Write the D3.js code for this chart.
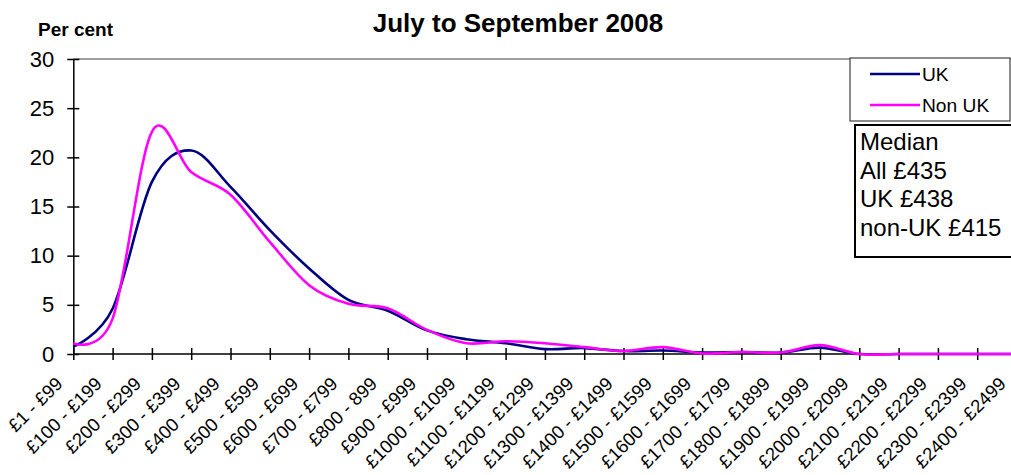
<!DOCTYPE html>
<html>
<head>
<meta charset="utf-8">
<script src="https://cdn.jsdelivr.net/npm/d3@7"></script>
<style>
  html, body { margin: 0; padding: 0; background: #fff; }
  svg { display: block; font-family: Arial, "Liberation Sans", sans-serif; }
</style>
</head>
<body>
<svg id="chart" width="1011" height="475"></svg>
<script>
// Weekly earnings bands
const categories = [
  "£1 - £99", "£100 - £199", "£200 - £299", "£300 - £399", "£400 - £499",
  "£500 - £599", "£600 - £699", "£700 - £799", "£800 - 899", "£900 - £999",
  "£1000 - £1099", "£1100 - £1199", "£1200 - £1299", "£1300 - £1399", "£1400 - £1499",
  "£1500 - £1599", "£1600 - £1699", "£1700 - £1799", "£1800 - £1899", "£1900 - £1999",
  "£2000 - £2099", "£2100 - £2199", "£2200 - £2299", "£2300 - £2399", "£2400 - £2499"
];

// Share of workers in each band (per cent)
const ukValues = [0.75, 4.6, 17.5, 20.7, 17.0, 12.6, 8.7, 5.5, 4.4, 2.4, 1.5, 1.1, 0.5,
  0.6, 0.3, 0.35, 0.15, 0.2, 0.15, 0.65, 0, 0, 0, 0, 0];
const nonUkValues = [1.1, 3.6, 22.6, 18.5, 16.2, 11.4, 7.0, 5.1, 4.65, 2.45, 1.1, 1.3, 1.1,
  0.7, 0.3, 0.7, 0.05, 0.2, 0.15, 0.9, 0, 0, 0, 0, 0];

const yTicks = [0, 5, 10, 15, 20, 25, 30];
const seriesNames = ["UK", "Non UK"];
const medianLines = ["Median", "All £435", "UK £438", "non-UK £415"];
const titleText = "July to September 2008";
const yAxisTitle = "Per cent";

const svg = d3.select("#chart");
const FONT = "Arial, 'Liberation Sans', sans-serif";

const plotLeft = 73.3, plotRight = 73.3 + 24 * 39.3, plotTop = 59, plotBottom = 354;

const x = d3.scalePoint().domain(categories).range([plotLeft, plotRight]);
const y = d3.scaleLinear().domain([0, 30]).range([plotBottom, plotTop]);

// Plot area top border
svg.append("line")
  .attr("x1", plotLeft).attr("x2", 1011)
  .attr("y1", plotTop).attr("y2", plotTop)
  .attr("stroke", "#808080").attr("stroke-width", 1.5);

// Y axis
const yAxis = svg.append("g")
  .attr("transform", `translate(${plotLeft},0)`)
  .call(d3.axisLeft(y).tickValues(yTicks).tickSize(0).tickPadding(19));
yAxis.select(".domain").attr("stroke", "#000").attr("stroke-width", 1.5);
yAxis.selectAll(".tick text")
  .attr("font-size", 22).attr("fill", "#000")
  .attr("font-family", FONT);
yAxis.selectAll(".tick").append("line")
  .attr("x1", -6).attr("x2", 6)
  .attr("stroke", "#000").attr("stroke-width", 1.5);

// X axis
const xAxis = svg.append("g")
  .attr("transform", `translate(0,${plotBottom})`)
  .call(d3.axisBottom(x).tickSize(0).tickFormat(""));
xAxis.select(".domain").remove();
xAxis.append("line")
  .attr("x1", plotLeft).attr("x2", 1011)
  .attr("stroke", "#000").attr("stroke-width", 1.5);
xAxis.selectAll(".tick").append("line")
  .attr("y1", -6).attr("y2", 6)
  .attr("stroke", "#000").attr("stroke-width", 1.5);
xAxis.selectAll(".tick").append("text")
  .attr("transform", "translate(-10,31) rotate(-45)")
  .attr("text-anchor", "end")
  .attr("font-size", 18.5)
  .attr("fill", "#000")
  .attr("font-family", FONT)
  .text(d => d);

// Series lines
const line = d3.line()
  .x((d, i) => x(categories[i]))
  .y(d => y(d))
  .curve(d3.curveCardinal.tension(0));

svg.append("path")
  .datum(ukValues)
  .attr("fill", "none")
  .attr("stroke", "#000080")
  .attr("stroke-width", 2.6)
  .attr("d", line);

svg.append("path")
  .datum(nonUkValues)
  .attr("fill", "none")
  .attr("stroke", "#FF00FF")
  .attr("stroke-width", 2.6)
  .attr("d", line);

// Titles
svg.append("text")
  .attr("x", 518).attr("y", 32)
  .attr("text-anchor", "middle")
  .attr("font-size", 26).attr("font-weight", "bold")
  .text(titleText);

svg.append("text")
  .attr("x", 38).attr("y", 36)
  .attr("font-size", 19).attr("font-weight", "bold")
  .text(yAxisTitle);

// Legend
const legend = svg.append("g");
legend.append("rect")
  .attr("x", 850).attr("y", 58).attr("width", 160).attr("height", 63)
  .attr("fill", "#fff").attr("stroke", "#404040").attr("stroke-width", 1.2);
const legendColors = ["#000080", "#FF00FF"];
seriesNames.forEach((name, i) => {
  const ly = 74 + i * 31;
  legend.append("line")
    .attr("x1", 870).attr("x2", 920).attr("y1", ly).attr("y2", ly)
    .attr("stroke", legendColors[i]).attr("stroke-width", 2.6);
  legend.append("text")
    .attr("x", 922).attr("y", ly).attr("dy", "0.35em")
    .attr("font-size", 19.2).text(name);
});

// Median box
const med = svg.append("g");
med.append("rect")
  .attr("x", 855).attr("y", 125).attr("width", 170).attr("height", 132)
  .attr("fill", "#fff").attr("stroke", "#000").attr("stroke-width", 2);
medianLines.forEach((t, i) => {
  med.append("text")
    .attr("x", 860).attr("y", 150 + i * 28.5)
    .attr("font-size", 24).text(t);
});
</script>
</body>
</html>
